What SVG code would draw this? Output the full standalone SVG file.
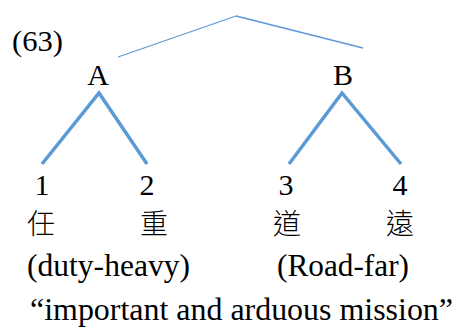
<svg xmlns="http://www.w3.org/2000/svg" width="455" height="328" viewBox="0 0 455 328">
<style>
.t{font-family:"Liberation Serif","Times New Roman",serif;font-size:30px;fill:#000}
.b{font-size:31px}
.c{font-family:"Noto Sans CJK TC","Noto Sans CJK SC",sans-serif;font-size:28px;font-weight:300;fill:#000}
.thin{stroke:#5B9BD5;stroke-width:1.3;fill:none}
.thick{stroke:#5B9BD5;stroke-width:3.5;fill:none}
</style>
<rect width="455" height="328" fill="#fff"/>
<g id="connectors">
<line class="thin" x1="118" y1="57" x2="236" y2="16"/>
<line class="thin" x1="236" y1="16" x2="363" y2="48"/>
<polyline class="thick" points="42,164 99,93 147,164"/>
<polyline class="thick" points="289,164 342,93 401,164"/>
</g>
<text class="t" x="12" y="51" textLength="51" lengthAdjust="spacingAndGlyphs">(63)</text>
<g id="A"><text class="t" x="98" y="85" text-anchor="middle">A</text></g>
<g id="B"><text class="t" x="343" y="85" text-anchor="middle">B</text></g>
<g id="n1"><text class="t" x="42" y="195" text-anchor="middle">1</text><text class="c" x="41" y="234" text-anchor="middle">任</text></g>
<g id="n2"><text class="t" x="147" y="195" text-anchor="middle">2</text><text class="c" x="154" y="234" text-anchor="middle">重</text></g>
<g id="n3"><text class="t" x="286" y="195" text-anchor="middle">3</text><text class="c" x="287" y="234" text-anchor="middle">道</text></g>
<g id="n4"><text class="t" x="400" y="195" text-anchor="middle">4</text><text class="c" x="400" y="234" text-anchor="middle">遠</text></g>
<text class="t b" x="27" y="276" textLength="163" lengthAdjust="spacingAndGlyphs">(duty-heavy)</text>
<text class="t b" x="277" y="276" textLength="132" lengthAdjust="spacingAndGlyphs">(Road-far)</text>
<text class="t b" x="30" y="320" textLength="423" lengthAdjust="spacingAndGlyphs">“important and arduous mission”</text>
</svg>
